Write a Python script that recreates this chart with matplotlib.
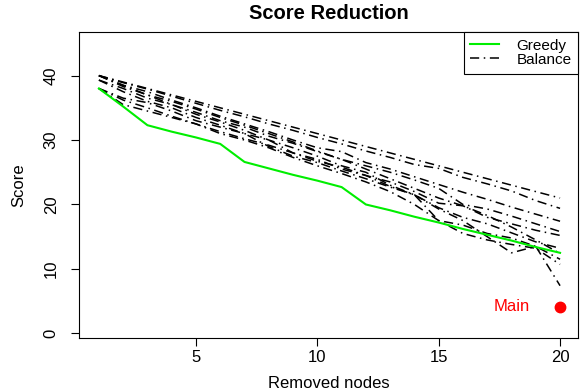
import numpy as np
from matplotlib import pyplot as plt

plt.rcParams['font.family'] = ['Liberation Sans', 'DejaVu Sans']

removed = np.arange(1, 21)

greedy = [38.0, 35.2, 32.3, 31.3, 30.4, 29.4, 26.6, 25.6, 24.6, 23.7,
          22.7, 20.0, 19.1, 18.1, 17.2, 16.2, 15.3, 14.4, 13.4, 12.5]

# balance runs
balance = [
    [40, 39, 38, 37, 36, 35, 34, 33, 32, 31, 30, 29, 28, 27, 26, 25, 24, 23, 22, 21],
    [40, 38.9, 37.9, 36.8, 35.7, 34.6, 33.6, 32.5, 31.5, 30.4, 29.4, 28.3, 27.3, 26.2, 25.6, 24.2, 23.2, 22.1, 20.6, 19.4],
    [40, 38.5, 37.5, 36.2, 35, 33.7, 32.5, 31.3, 30, 28.8, 28.2, 26.5, 25.5, 24.3, 23.1, 21.9, 20.8, 19.6, 18.5, 17.4],
    [39.3, 38, 36.5, 35.5, 34.3, 33, 32, 30.6, 29.5, 28.2, 27, 26, 25, 23.8, 22.5, 20, 19.3, 18.2, 17, 15.8],
    [38, 36.5, 35.8, 34.5, 33, 32, 31, 30, 28, 26.7, 25.8, 24.5, 23.5, 22, 20.2, 19.8, 18, 17, 16, 15.2],
    [38, 35.5, 34.5, 33.5, 32.5, 31.3, 30.2, 29.2, 28, 27, 25.5, 24.5, 22.8, 21.5, 19.5, 18, 17, 15.6, 14.2, 13.2],
    [40, 38.5, 37, 36, 34.8, 33.5, 32.3, 31, 29.7, 28.3, 27, 25.5, 24, 22.5, 21, 19.8, 18.3, 16.5, 14.5, 12.4],
    [39.3, 37.5, 36, 35, 33.5, 32.3, 31, 29, 27.5, 26.5, 25.2, 24, 22.7, 21.5, 17.5, 16.8, 15.5, 14.8, 13.5, 11.5],
    [38, 36.2, 35, 33.7, 32.5, 31, 30, 28.8, 27.3, 26, 24.8, 23.5, 22, 20, 17.5, 15.5, 14.5, 13.8, 13.2, 10.7],
    [40, 38.3, 37, 35.5, 34, 32.8, 31.5, 30, 28.8, 27.5, 26, 25, 23, 21.5, 19.3, 17.5, 15, 12.5, 13.5, 7.4],
]

main_x = 20
main_score = 4.1

fs = 12

fig = plt.figure(figsize=(5.8, 3.92), dpi=100)
ax = fig.add_axes([0.137, 0.138, 0.860, 0.781])

dashdot = (0, (6, 3, 1, 3))
for run in balance:
    ax.plot(removed, run, color='black', linestyle=dashdot, linewidth=1.1)
greedy_line, = ax.plot(removed, greedy, color='#00ee00', linewidth=1.5)

ax.plot([main_x], [main_score], 'o', color='red', markersize=7.5)
ax.text(main_x - 2.0, main_score, 'Main', color='red', fontsize=fs,
        ha='center', va='center')

ax.set_xlim(0.2, 20.75)
ax.set_ylim(-0.7, 46.8)
ax.set_xticks([5, 10, 15, 20])
ax.set_yticks([0, 10, 20, 30, 40])
ax.tick_params(direction='out', length=5.5, labelsize=fs)
ax.tick_params(axis='x', pad=3.5)
ax.tick_params(axis='y', pad=9.5)
for lab in ax.get_yticklabels():
    lab.set_rotation(90)
    lab.set_va('center')

ax.set_title('Score Reduction', fontsize=14.5, fontweight='bold', pad=9)
ax.set_xlabel('Removed nodes', fontsize=fs)
ax.set_ylabel('Score', fontsize=fs)
ax.xaxis.set_label_coords(0.5, -0.15)
ax.yaxis.set_label_coords(-0.122, 0.5)
ax.xaxis.label.set_va('center')
ax.yaxis.label.set_va('center')

balance_handle = plt.Line2D([], [], color='black', linestyle=dashdot, linewidth=1.1)
leg = ax.legend([greedy_line, balance_handle], ['Greedy', 'Balance'],
                loc='upper right', fontsize=11, fancybox=False,
                edgecolor='black', borderaxespad=0, handlelength=1.9,
                labelspacing=0.0, borderpad=0.45, handletextpad=1.1,
                framealpha=1)
leg.get_frame().set_linewidth(0.8)

fig.savefig('out.png')
